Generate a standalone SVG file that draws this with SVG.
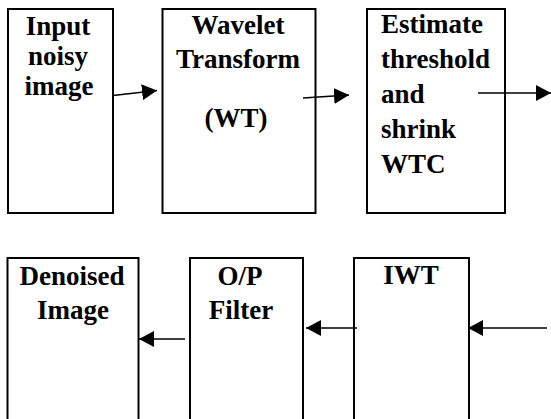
<svg xmlns="http://www.w3.org/2000/svg" width="551" height="419" viewBox="0 0 551 419">
<style>
.box{fill:#fff;stroke:#000;stroke-width:2}
.t{font-family:"Liberation Serif","Times New Roman",serif;font-weight:bold;font-size:27px;fill:#000}
.c{text-anchor:middle}
.ln{stroke:#000;stroke-width:1.6;fill:none}
</style>
<defs>
<marker id="ah" viewBox="0 0 15 16" refX="15" refY="8" markerWidth="15" markerHeight="16" markerUnits="userSpaceOnUse" orient="auto">
<path d="M0,0 L15,8 L0,16 z" fill="#000"/>
</marker>
</defs>
<rect width="551" height="419" fill="#fff"/>
<g id="input">
<rect class="box" x="8" y="9" width="105" height="204"/>
<text class="t c" x="58" y="35">Input</text>
<text class="t c" x="58" y="65">noisy</text>
<text class="t c" x="59" y="95">image</text>
</g>
<g id="wt">
<rect class="box" x="162.5" y="9" width="153" height="204"/>
<text class="t c" x="238" y="34">Wavelet</text>
<text class="t c" x="238" y="68">Transform</text>
<text class="t c" x="236" y="127">(WT)</text>
</g>
<g id="estimate">
<rect class="box" x="367" y="9" width="138" height="204"/>
<text class="t" x="381" y="33">Estimate</text>
<text class="t" x="381" y="68">threshold</text>
<text class="t" x="381" y="103">and</text>
<text class="t" x="381" y="138">shrink</text>
<text class="t" x="381" y="173">WTC</text>
</g>
<g id="denoised">
<rect class="box" x="7.5" y="258" width="131" height="175"/>
<text class="t c" x="72" y="285">Denoised</text>
<text class="t c" x="73" y="319">Image</text>
</g>
<g id="opfilter">
<rect class="box" x="190" y="258" width="113" height="175"/>
<text class="t c" x="240" y="285">O/P</text>
<text class="t c" x="241" y="319">Filter</text>
</g>
<g id="iwt">
<rect class="box" x="354" y="258" width="115" height="175"/>
<text class="t c" x="411" y="284">IWT</text>
</g>
<g id="connectors">
<path class="ln" d="M113,95.5 L157,90.5" marker-end="url(#ah)"/>
<path class="ln" d="M303,98 L349,95" marker-end="url(#ah)"/>
<path class="ln" d="M478,93 L551,93" marker-end="url(#ah)"/>
<path class="ln" d="M185,339 L139,339" marker-end="url(#ah)"/>
<path class="ln" d="M357,328 L306,328" marker-end="url(#ah)"/>
<path class="ln" d="M547,328 L468,328" marker-end="url(#ah)"/>
</g>
</svg>
